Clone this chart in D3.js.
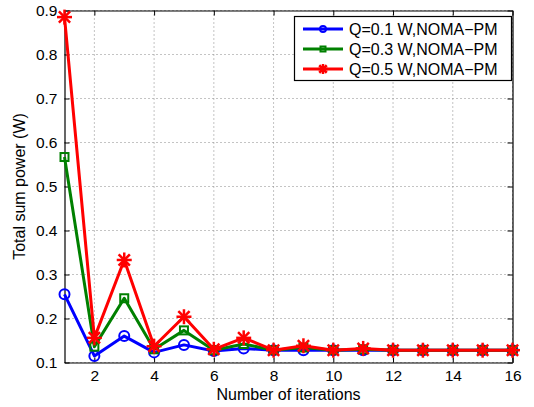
<!DOCTYPE html>
<html><head><meta charset="utf-8">
<script src="https://cdn.jsdelivr.net/npm/d3@7"></script>
<style>body{margin:0;background:#fff}svg{display:block}</style>
</head><body>
<svg id="c" width="534" height="407"></svg>
<script>
const iterations = d3.range(1, 17);
const seriesNames = ["Q=0.1 W,NOMA\u2212PM", "Q=0.3 W,NOMA\u2212PM", "Q=0.5 W,NOMA\u2212PM"];
const q01 = [0.255, 0.115, 0.160, 0.123, 0.140, 0.126, 0.132, 0.128, 0.128, 0.128, 0.128, 0.128, 0.128, 0.128, 0.128, 0.128];
const q03 = [0.567, 0.136, 0.246, 0.130, 0.173, 0.128, 0.142, 0.128, 0.134, 0.128, 0.130, 0.128, 0.128, 0.128, 0.128, 0.128];
const q05 = [0.885, 0.156, 0.333, 0.137, 0.204, 0.130, 0.156, 0.128, 0.138, 0.128, 0.132, 0.128, 0.128, 0.128, 0.128, 0.128];
const xTicks = [2, 4, 6, 8, 10, 12, 14, 16];
const yTicks = [0.1, 0.2, 0.3, 0.4, 0.5, 0.6, 0.7, 0.8, 0.9];
const colors = ["#0000ff", "#008000", "#ff0000"];
const markers = ["circle", "square", "star"];
const values = [q01, q03, q05];

const svg = d3.select("#c");
const L = 64.5, R = 512.5, T = 10.5, B = 362.5;
const x = d3.scaleLinear().domain([1, 16]).range([L, R]);
const y = d3.scaleLinear().domain([0.1, 0.9]).range([B, T]);
const font = "'Liberation Sans', Arial, sans-serif";
const fs = 16;

// grid
const g = svg.append("g");
g.selectAll(".gx").data(xTicks).join("line")
  .attr("x1", d => x(d)).attr("x2", d => x(d)).attr("y1", T).attr("y2", B)
  .attr("stroke", "#888").attr("stroke-width", 1).attr("stroke-dasharray", "1,3");
g.selectAll(".gy").data(yTicks).join("line")
  .attr("y1", d => y(d)).attr("y2", d => y(d)).attr("x1", L).attr("x2", R)
  .attr("stroke", "#888").attr("stroke-width", 1).attr("stroke-dasharray", "1,3");

// axes
const xAxis = svg.append("g").attr("transform", `translate(0,${B})`)
  .call(d3.axisBottom(x).tickValues(xTicks).tickSizeInner(-5).tickSizeOuter(0).tickPadding(7));
const xTop = svg.append("g").attr("transform", `translate(0,${T})`)
  .call(d3.axisTop(x).tickValues(xTicks).tickSizeInner(-5).tickSizeOuter(0).tickFormat(""));
const yAxis = svg.append("g").attr("transform", `translate(${L},0)`)
  .call(d3.axisLeft(y).tickValues(yTicks).tickSizeInner(-5).tickSizeOuter(0).tickPadding(7).tickFormat(d3.format(".1f")));
const yRight = svg.append("g").attr("transform", `translate(${R},0)`)
  .call(d3.axisRight(y).tickValues(yTicks).tickSizeInner(-5).tickSizeOuter(0).tickFormat(""));
[xAxis, xTop, yAxis, yRight].forEach(a => {
  a.selectAll("path").attr("stroke", "#000").attr("stroke-width", 1.2);
  a.selectAll("line").attr("stroke", "#000");
  a.selectAll("text").attr("font-family", font).attr("font-size", 15.5).attr("fill", "#000");
});

// axis labels
svg.append("text").attr("x", (L + R) / 2).attr("y", 400).attr("text-anchor", "middle")
  .attr("font-family", font).attr("font-size", fs).text("Number of iterations");
svg.append("text").attr("transform", `translate(25,${(T + B) / 2}) rotate(-90)`).attr("text-anchor", "middle")
  .attr("font-family", font).attr("font-size", fs).text("Total sum power (W)");

function drawMarker(sel, type, color, size) {
  if (type === "circle") {
    sel.append("circle").attr("r", size).attr("fill", "none").attr("stroke", color).attr("stroke-width", 2);
  } else if (type === "square") {
    sel.append("rect").attr("x", -size).attr("y", -size).attr("width", 2 * size).attr("height", 2 * size)
      .attr("fill", "none").attr("stroke", color).attr("stroke-width", 2);
  } else {
    const s = size;
    const p = [[-s, 0, s, 0], [0, -s, 0, s], [-s * 0.75, -s * 0.75, s * 0.75, s * 0.75], [-s * 0.75, s * 0.75, s * 0.75, -s * 0.75]];
    p.forEach(q => sel.append("line").attr("x1", q[0]).attr("y1", q[1]).attr("x2", q[2]).attr("y2", q[3])
      .attr("stroke", color).attr("stroke-width", 2.5));
  }
}

const line = d3.line().x((d, i) => x(iterations[i])).y(d => y(d));
values.forEach((vals, si) => {
  const gs = svg.append("g");
  gs.append("path").datum(vals).attr("d", line).attr("fill", "none")
    .attr("stroke", colors[si]).attr("stroke-width", 3).attr("stroke-linejoin", "round");
  const mk = si === 0 ? 5 : (si === 1 ? 4 : 7.5);
  gs.selectAll("g.m").data(vals).join("g").attr("class", "m")
    .attr("transform", (d, i) => `translate(${x(iterations[i])},${y(d)})`)
    .each(function () { drawMarker(d3.select(this), markers[si], colors[si], mk); });
});

// legend
const lg = svg.append("g");
lg.append("rect").attr("x", 294.5).attr("y", 16.5).attr("width", 217).attr("height", 64)
  .attr("fill", "#fff").attr("stroke", "#000").attr("stroke-width", 1.2);
seriesNames.forEach((name, i) => {
  const yy = 29 + i * 20;
  lg.append("line").attr("x1", 303).attr("x2", 343).attr("y1", yy).attr("y2", yy)
    .attr("stroke", colors[i]).attr("stroke-width", 3);
  const m = lg.append("g").attr("transform", `translate(323,${yy})`);
  drawMarker(m, markers[i], colors[i], i === 0 ? 3 : (i === 1 ? 2.5 : 5));
  lg.append("text").attr("x", 349).attr("y", yy + 6).attr("font-family", font).attr("font-size", fs).text(name);
});
</script>
</body></html>
